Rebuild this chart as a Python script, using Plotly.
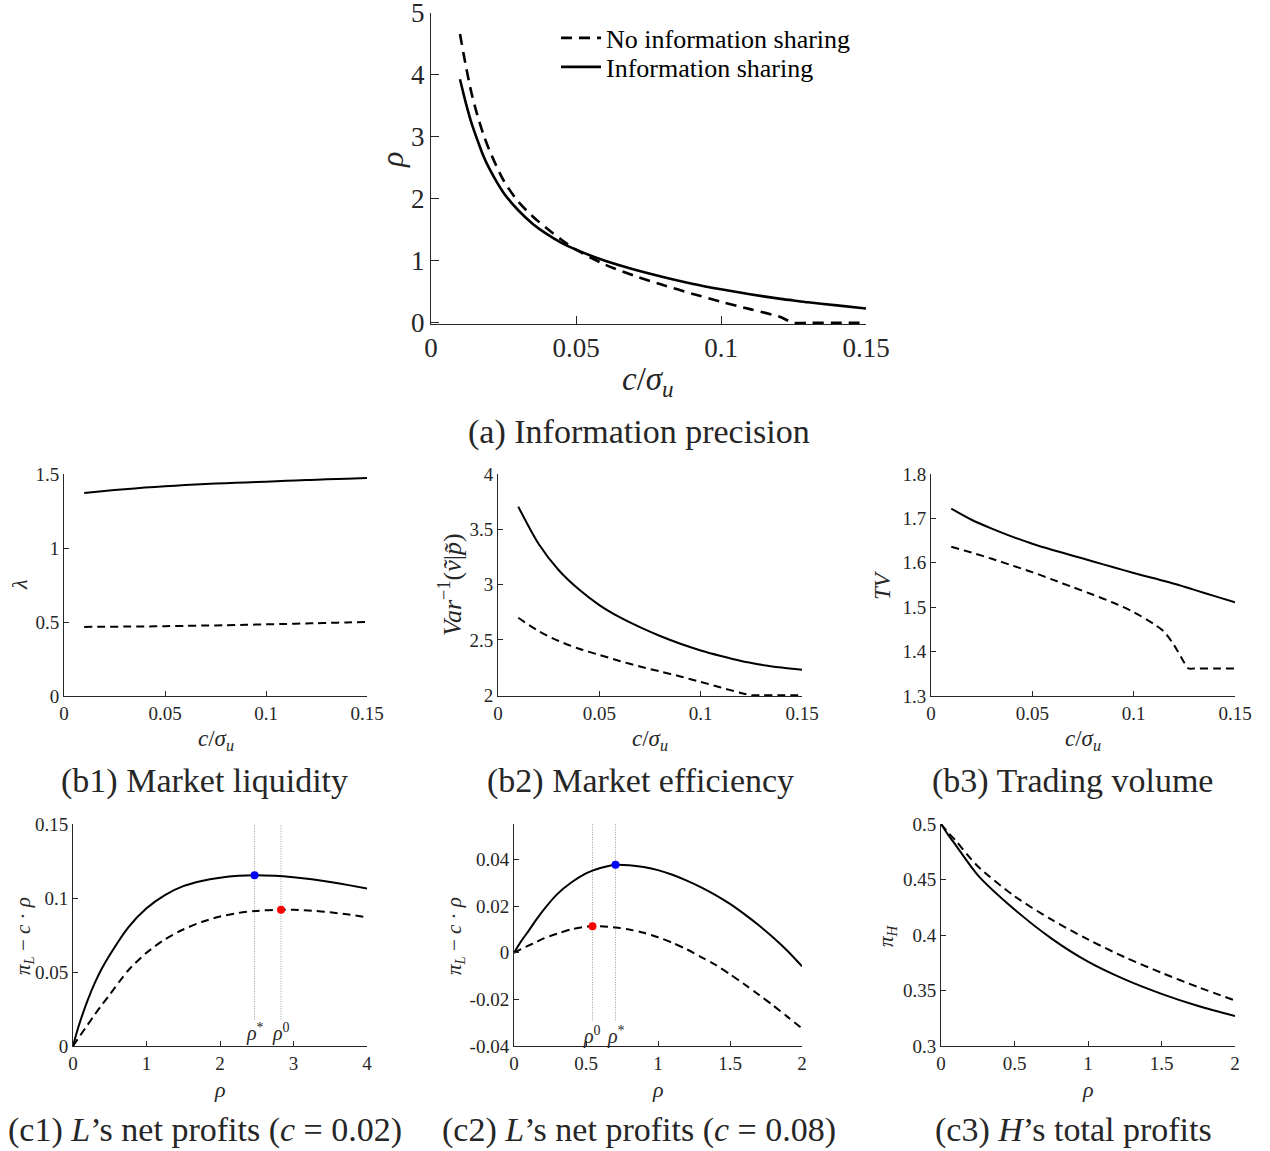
import plotly.graph_objects as go

W, H = 1270, 1151
FONT = "Liberation Serif"
INK = "#262626"

# ---------------- data ----------------
# (a) information precision rho vs c/sigma_u
a_x = [0.01, 0.012, 0.014, 0.016, 0.018, 0.02, 0.025, 0.03, 0.035, 0.04, 0.045, 0.05,
       0.06, 0.07, 0.08, 0.09, 0.10, 0.11, 0.12, 0.125, 0.13, 0.14, 0.15]
a_share = [3.93, 3.55, 3.22, 2.95, 2.70, 2.50, 2.10, 1.82, 1.60, 1.43, 1.29, 1.18,
           1.00, 0.86, 0.74, 0.63, 0.54, 0.46, 0.39, 0.36, 0.33, 0.28, 0.23]
a_noshare = [4.66, 4.15, 3.70, 3.35, 3.05, 2.80, 2.30, 1.96, 1.72, 1.52, 1.34, 1.18,
             0.94, 0.76, 0.61, 0.47, 0.34, 0.22, 0.10, 0.0, 0.0, 0.0, 0.0]

# (b) market quality vs c/sigma_u
b_x = [0.01, 0.02, 0.03, 0.04, 0.05, 0.06, 0.07, 0.08, 0.09, 0.10, 0.11, 0.12, 0.125, 0.13, 0.14, 0.15]
lam_share = [1.371, 1.385, 1.397, 1.408, 1.417, 1.425, 1.432, 1.438, 1.443, 1.448, 1.454, 1.459,
             1.461, 1.464, 1.468, 1.473]
lam_noshare = [0.467, 0.468, 0.469, 0.470, 0.472, 0.474, 0.476, 0.478, 0.481, 0.484, 0.487, 0.490,
               0.492, 0.494, 0.497, 0.500]
eff_share = [3.705, 3.37, 3.13, 2.955, 2.815, 2.705, 2.615, 2.535, 2.465, 2.405, 2.355, 2.31,
             2.292, 2.275, 2.25, 2.23]
eff_noshare = [2.70, 2.58, 2.49, 2.42, 2.365, 2.31, 2.26, 2.215, 2.17, 2.12, 2.07, 2.02, 2.0, 2.0,
               2.0, 2.0]
tv_share = [1.722, 1.697, 1.677, 1.659, 1.643, 1.629, 1.616, 1.603, 1.590, 1.577, 1.565, 1.553,
            1.546, 1.539, 1.525, 1.511]
tv_no_x = [0.01, 0.02, 0.03, 0.04, 0.05, 0.06, 0.07, 0.08, 0.09, 0.10, 0.11, 0.115, 0.12, 0.125,
           0.127, 0.13, 0.14, 0.15]
tv_noshare = [1.636, 1.623, 1.609, 1.594, 1.579, 1.562, 1.545, 1.528, 1.510, 1.489, 1.462, 1.445,
              1.414, 1.375, 1.362, 1.362, 1.362, 1.362]

# (c1) L's net profits, c = 0.02
c1_x = [0, 0.05, 0.1, 0.2, 0.3, 0.4, 0.5, 0.75, 1.0, 1.25, 1.5, 1.75, 2.0, 2.25, 2.47, 2.75,
        3.0, 3.25, 3.5, 3.75, 4.0]
c1_share = [0, 0.0090, 0.0170, 0.0310, 0.0430, 0.0530, 0.0615, 0.0800, 0.0930, 0.1020, 0.1080,
            0.1115, 0.1137, 0.1150, 0.1154, 0.1150, 0.1140, 0.1126, 0.1108, 0.1087, 0.1064]
c1_nx = [0, 0.1, 0.2, 0.3, 0.4, 0.5, 0.75, 1.0, 1.25, 1.5, 1.75, 2.0, 2.25, 2.5, 2.83, 3.0,
         3.25, 3.5, 3.75, 4.0]
c1_noshare = [0, 0.0072, 0.0144, 0.0215, 0.0283, 0.0347, 0.0510, 0.0630, 0.0720, 0.0787, 0.0838,
              0.0875, 0.0899, 0.0913, 0.0921, 0.0920, 0.0914, 0.0903, 0.0888, 0.0869]
c1_rho_star, c1_pi_star = 2.47, 0.1154
c1_rho_zero, c1_pi_zero = 2.83, 0.0921

# (c2) L's net profits, c = 0.08
c2_x = [0, 0.05, 0.1, 0.15, 0.2, 0.3, 0.4, 0.5, 0.545, 0.6, 0.705, 0.8, 0.9, 1.0, 1.1, 1.2, 1.3,
        1.4, 1.5, 1.6, 1.7, 1.8, 1.9, 2.0]
c2_share = [0, 0.0050, 0.0093, 0.0138, 0.0180, 0.0252, 0.0303, 0.0341, 0.0353, 0.0364, 0.0378,
            0.0376, 0.0368, 0.0355, 0.0335, 0.0310, 0.0281, 0.0248, 0.0210, 0.0166, 0.0118, 0.0066,
            0.0008, -0.0058]
c2_noshare = [0, 0.0016, 0.0031, 0.0045, 0.0060, 0.0082, 0.0101, 0.0112, 0.0114, 0.0114, 0.0109,
              0.0100, 0.0086, 0.0067, 0.0043, 0.0015, -0.0018, -0.0052, -0.0092, -0.0135, -0.0180,
              -0.0226, -0.0275, -0.0325]
c2_rho_star, c2_pi_star = 0.705, 0.0378
c2_rho_zero, c2_pi_zero = 0.545, 0.0114

# (c3) H's total profits
c3_x = [0, 0.05, 0.1, 0.25, 0.5, 0.75, 1.0, 1.25, 1.5, 1.75, 2.0]
c3_share = [0.5, 0.490, 0.481, 0.454, 0.423, 0.397, 0.376, 0.360, 0.347, 0.336, 0.327]
c3_noshare = [0.5, 0.492, 0.485, 0.462, 0.435, 0.414, 0.396, 0.380, 0.366, 0.353, 0.341]

# tick labels
a_xticks = [0, 0.05, 0.1, 0.15]
a_xtext = ["0", "0.05", "0.1", "0.15"]
a_yticks = [0, 1, 2, 3, 4, 5]
a_ytext = ["0", "1", "2", "3", "4", "5"]
b1_yticks = [0, 0.5, 1, 1.5]
b1_ytext = ["0", "0.5", "1", "1.5"]
b2_yticks = [2, 2.5, 3, 3.5, 4]
b2_ytext = ["2", "2.5", "3", "3.5", "4"]
b3_yticks = [1.3, 1.4, 1.5, 1.6, 1.7, 1.8]
b3_ytext = ["1.3", "1.4", "1.5", "1.6", "1.7", "1.8"]
c1_xticks = [0, 1, 2, 3, 4]
c1_xtext = ["0", "1", "2", "3", "4"]
c1_yticks = [0, 0.05, 0.1, 0.15]
c1_ytext = ["0", "0.05", "0.1", "0.15"]
c2_xticks = [0, 0.5, 1, 1.5, 2]
c2_xtext = ["0", "0.5", "1", "1.5", "2"]
c2_yticks = [-0.04, -0.02, 0, 0.02, 0.04]
c2_ytext = ["-0.04", "-0.02", "0", "0.02", "0.04"]
c3_yticks = [0.3, 0.35, 0.4, 0.45, 0.5]
c3_ytext = ["0.3", "0.35", "0.4", "0.45", "0.5"]

# ---------------- layout helpers ----------------
def fx(p):
    return p / W

def fy(p):
    return 1 - p / H

# pixel boxes of each axes: (x0, x1, ytop, ybottom)
boxes = {
    1: (431, 866, 13, 324),
    2: (64, 367, 474, 696),
    3: (498, 802, 474, 696),
    4: (931, 1235, 474, 696),
    5: (73, 367, 824, 1046),
    6: (514, 802, 824, 1046),
    7: (941, 1235, 824, 1046),
}

fig = go.Figure()

def ax_name(i, kind):
    return kind if i == 1 else f"{kind}{i}"

def add(i, x, y, dash=None, width=2.0, name=None, legend=None):
    kw = {}
    if legend:
        kw["legend"] = legend
    fig.add_trace(go.Scatter(
        x=x, y=y, mode="lines", name=name, showlegend=bool(legend),
        line=dict(color="black", width=width, dash=dash, shape="spline", smoothing=0.8),
        xaxis="x" if i == 1 else f"x{i}", yaxis="y" if i == 1 else f"y{i}",
        hoverinfo="skip", **kw))

# panel (a)
add(1, a_x, a_noshare, dash="11px,7px", width=2.6, name="No information sharing", legend="legend")
add(1, a_x, a_share, width=2.6, name="Information sharing", legend="legend2")
# b panels
add(2, b_x, lam_share)
add(2, b_x, lam_noshare, dash="8px,5px")
add(3, b_x, eff_share)
add(3, b_x, eff_noshare, dash="8px,5px")
add(4, b_x, tv_share)
add(4, tv_no_x, tv_noshare, dash="8px,5px")

# c panels: guide lines first
def guide(i, xv, y0, y1):
    fig.add_trace(go.Scatter(
        x=[xv, xv], y=[y0, y1], mode="lines", showlegend=False,
        line=dict(color="#9a9a9a", width=1, dash="1px,1.5px"),
        xaxis=f"x{i}", yaxis=f"y{i}", hoverinfo="skip"))

c1_range = [0, 0.15]
c2_range = [-0.04, 0.0553]
guide(5, c1_rho_star, 0.018, c1_range[1])
guide(5, c1_rho_zero, 0.018, c1_range[1])
guide(6, c2_rho_zero, -0.029, c2_range[1])
guide(6, c2_rho_star, -0.029, c2_range[1])

add(5, c1_x, c1_share)
add(5, c1_nx, c1_noshare, dash="8px,5px")
add(6, c2_x, c2_share)
add(6, c2_x, c2_noshare, dash="8px,5px")
add(7, c3_x, c3_share)
add(7, c3_x, c3_noshare, dash="8px,5px")

def dot(i, xv, yv, color):
    fig.add_trace(go.Scatter(
        x=[xv], y=[yv], mode="markers", showlegend=False,
        marker=dict(color=color, size=8, line=dict(width=0)),
        xaxis=f"x{i}", yaxis=f"y{i}", hoverinfo="skip", cliponaxis=False))

dot(5, c1_rho_star, c1_pi_star, "#0000ff")
dot(5, c1_rho_zero, c1_pi_zero, "#ff0000")
dot(6, c2_rho_star, c2_pi_star, "#0000ff")
dot(6, c2_rho_zero, c2_pi_zero, "#ff0000")

# axes
def axis_common(fs, ticklen):
    return dict(showline=True, linecolor=INK, linewidth=1, ticks="inside", ticklen=ticklen,
                tickwidth=1, tickcolor=INK, showgrid=False, zeroline=False, automargin=False,
                ticklabeloverflow="allow",
                tickfont=dict(family=FONT, size=fs, color=INK), fixedrange=True)

ranges = {
    1: ([0, 0.15], [-0.02, 5]),
    2: ([0, 0.15], [0, 1.5]),
    3: ([0, 0.15], [1.993, 4]),
    4: ([0, 0.15], [1.3, 1.8]),
    5: ([0, 4], c1_range),
    6: ([0, 2], c2_range),
    7: ([0, 2], [0.3, 0.5]),
}
xt = {1: (a_xticks, a_xtext), 2: (a_xticks, a_xtext), 3: (a_xticks, a_xtext),
      4: (a_xticks, a_xtext), 5: (c1_xticks, c1_xtext),
      6: (c2_xticks, c2_xtext), 7: (c2_xticks, c2_xtext)}
yt = {1: (a_yticks, a_ytext), 2: (b1_yticks, b1_ytext),
      3: (b2_yticks, b2_ytext), 4: (b3_yticks, b3_ytext), 5: (c1_yticks, c1_ytext),
      6: (c2_yticks, c2_ytext), 7: (c3_yticks, c3_ytext)}

lay = {}
for i, (x0, x1, yt0, yb) in boxes.items():
    fs = 27 if i == 1 else 19
    tl = 8 if i == 1 else 5
    xa = axis_common(fs, tl)
    xa.update(domain=[fx(x0), fx(x1)], range=ranges[i][0], tickvals=xt[i][0], ticktext=xt[i][1],
              anchor="y" if i == 1 else f"y{i}")
    ya = axis_common(fs, tl)
    ya.update(domain=[fy(yb), fy(yt0)], range=ranges[i][1], tickvals=yt[i][0], ticktext=yt[i][1],
              anchor="x" if i == 1 else f"x{i}")
    lay[ax_name(i, "xaxis")] = xa
    lay[ax_name(i, "yaxis")] = ya

ann = []
def text(xp, yp, s, size, angle=0, color=INK):
    ann.append(dict(x=fx(xp), y=fy(yp), xref="paper", yref="paper", text=s, showarrow=False,
                    font=dict(family=FONT, size=size, color=color), textangle=angle,
                    xanchor="center", yanchor="middle"))

cs = "<i>c</i>/<i>σ</i><sub><i>u</i></sub>"
rho = "<i>ρ</i>"
# panel a
text(648, 381, cs, 33)
text(392, 160, rho, 32, -90)
text(639, 432, "(a) Information precision", 34)
# b row
for xc in (216, 650, 1083):
    text(xc, 740, cs, 23)
text(19, 585, "<i>λ</i>", 22, -90)
text(450, 585, "<i>Var</i><sup>−1</sup>(<i>ṽ</i>|<i>p̃</i>)", 26, -90)
text(882, 585, "<i>TV</i>", 23, -90)
text(204, 781, "(b1) Market liquidity", 34)
text(640, 781, "(b2) Market efficiency", 34)
text(1072, 781, "(b3) Trading volume", 34)
# c row
for xc in (220, 658, 1088):
    text(xc, 1089, rho, 22)
text(24, 936, "<i>π</i><sub><i>L</i></sub> − <i>c</i> · <i>ρ</i>", 21, -90)
text(455, 936, "<i>π</i><sub><i>L</i></sub> − <i>c</i> · <i>ρ</i>", 21, -90)
text(887, 936, "<i>π</i><sub><i>H</i></sub>", 21, -90)
text(205, 1130, "(c1) <i>L</i>’s net profits (<i>c</i> = 0.02)", 34)
text(639, 1130, "(c2) <i>L</i>’s net profits (<i>c</i> = 0.08)", 34)
text(1073, 1130, "(c3) <i>H</i>’s total profits", 34)

# rho* / rho0 labels in data coordinates
def dlabel(i, xv, yv, s):
    ann.append(dict(x=xv, y=yv, xref=f"x{i}", yref=f"y{i}", text=s, showarrow=False,
                    font=dict(family=FONT, size=20, color=INK), xanchor="center",
                    yanchor="middle"))

dlabel(5, c1_rho_star, 0.009, "<i>ρ</i><sup>*</sup>")
dlabel(5, c1_rho_zero, 0.009, "<i>ρ</i><sup>0</sup>")
dlabel(6, c2_rho_zero, -0.0353, "<i>ρ</i><sup>0</sup>")
dlabel(6, c2_rho_star, -0.0353, "<i>ρ</i><sup>*</sup>")

leg_common = dict(xanchor="left", yanchor="middle",
                  font=dict(family=FONT, size=26, color="black"),
                  bgcolor="rgba(0,0,0,0)", borderwidth=0, itemwidth=40)
fig.update_layout(
    template="none",
    annotations=ann,
    width=W, height=H, autosize=False,
    margin=dict(l=0, r=0, t=0, b=0, pad=0),
    paper_bgcolor="white", plot_bgcolor="white",
    showlegend=True,
    legend=dict(x=fx(556), y=fy(38), **leg_common),
    legend2=dict(x=fx(556), y=fy(67), **leg_common),
    font=dict(family=FONT, color=INK),
)
fig.update_layout(**lay)

# remove the browser's default page margin so the figure fills the window exactly
fig.write_html("out.html",
               config={"displayModeBar": False, "staticPlot": True},
               post_script="document.body.style.margin='0';document.body.style.overflow='hidden';")
